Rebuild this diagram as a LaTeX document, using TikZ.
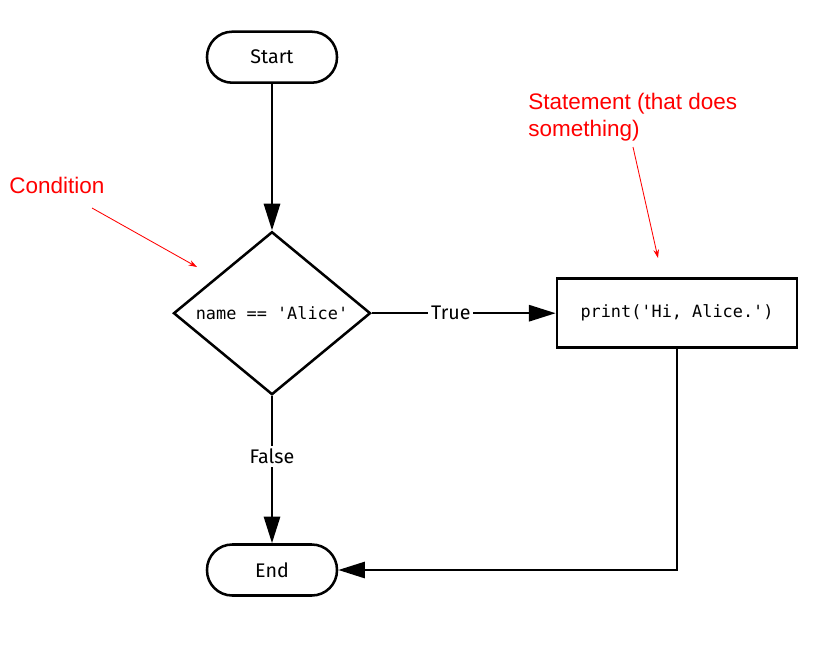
\documentclass[tikz,border=0pt]{standalone}
\usepackage{fontspec}
\setmainfont{Fira Sans}
\newfontfamily\notefont{Liberation Sans}
\newfontfamily\codefont{DejaVu Sans Mono}
\usetikzlibrary{shapes.geometric,arrows.meta}

\begin{document}
\begin{tikzpicture}[
  terminal/.style={draw, line width=1.8pt, rounded corners=0.63cm,
    minimum width=3.25cm, minimum height=1.275cm, font=\fontsize{14}{16}\selectfont},
  decision/.style={draw, diamond, line width=1.8pt, inner sep=0pt, aspect=1.21,
    minimum width=4.925cm, minimum height=4.075cm, font=\codefont\fontsize{12}{14}\selectfont},
  process/.style={draw, line width=1.9pt, minimum width=6cm, minimum height=1.725cm,
    font=\codefont\fontsize{12}{14}\selectfont},
  flow/.style={line width=1.8pt, -{Triangle[length=19pt,width=11.5pt]}},
  branch/.style={fill=white, inner sep=2pt, font=\fontsize{14}{16}\selectfont},
  note/.style={red, inner sep=0pt, font=\notefont\fontsize{16}{19.5}\selectfont},
  pointer/.style={red, line width=0.6pt, -{Stealth[length=6pt,width=4pt]}}
]
  \useasboundingbox (0,0) rectangle (20.35,-16.1);

  \node[terminal] (start) at (6.8, -1.43) {Start};
  \node[decision] (cond) at (6.8, -7.83) {name == \textquotesingle Alice\textquotesingle};
  \node[process] (say) at (16.925, -7.83) {print(\textquotesingle Hi, Alice.\textquotesingle)};
  \node[terminal] (stop) at (6.8, -14.25) {End};

  \draw[flow] (start) -- (cond);
  \draw[flow] (cond) -- node[branch, pos=0.43] (yes) {True} (say);
  \draw[flow] (cond) -- node[branch, pos=0.41] (no) {False} (stop);
  \draw[flow] (say.south) |- (stop.east);

  % annotations
  \node[note, anchor=base west] (condnote) at (0.225, -4.825) {Condition};
  \node[note, anchor=north west, align=left] (saynote) at (13.2, -2.325) {Statement (that does\\something)};

  \coordinate (condtail) at (2.3, -5.2);
  \coordinate (condhead) at (4.925, -6.675);
  \draw[pointer] (condtail) -- (condhead);

  \coordinate (saytail) at (15.825, -3.675);
  \coordinate (sayhead) at (16.45, -6.45);
  \draw[pointer] (saytail) -- (sayhead);
\end{tikzpicture}
\end{document}
